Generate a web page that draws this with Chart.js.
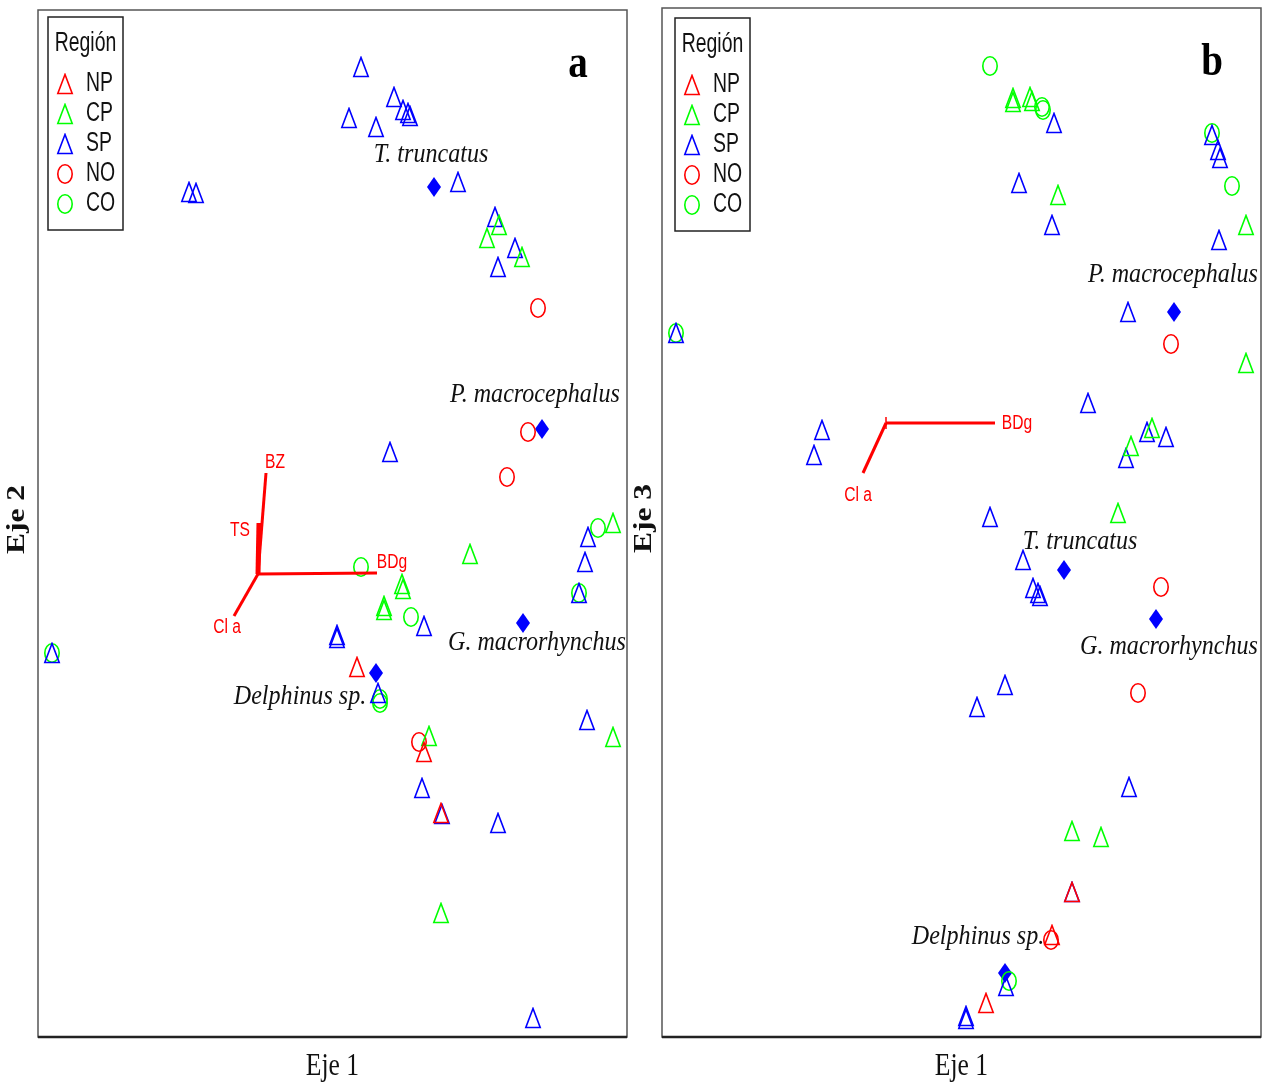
<!DOCTYPE html>
<html>
<head>
<meta charset="utf-8">
<script src="https://cdn.jsdelivr.net/npm/chart.js@4.4.0/dist/chart.umd.min.js"></script>
<style>
  body { margin: 0; background: #fff; width: 1263px; height: 1085px; overflow: hidden; position: relative; }
  .panel { position: absolute; top: 0; height: 1085px; }
</style>
</head>
<body>
<div class="panel" style="left:0;width:640px"><canvas id="chartA" width="640" height="1085"></canvas></div>
<div class="panel" style="left:630px;width:633px"><canvas id="chartB" width="633" height="1085"></canvas></div>
<script>
// ---- panel a : Eje 1 vs Eje 2 ----
const aNP = [[0.99, -0.93], [1.66, -1.78], [1.83, -2.39]];
const aCP = [[2.41, 3.49], [2.29, 3.36], [2.64, 3.17], [3.55, 0.51], [2.12, 0.20], [1.44, -0.10], [1.45, -0.15],
             [1.26, -0.32], [1.26, -0.36], [1.71, -1.62], [3.55, -1.63], [1.83, -3.39]];
const aSP = [[1.03, 5.07], [1.36, 4.77], [1.45, 4.64], [1.50, 4.61], [1.52, 4.58], [0.91, 4.56], [1.18, 4.47],
             [-0.69, 3.82], [-0.62, 3.81], [2.00, 3.92], [2.37, 3.57], [2.57, 3.26], [2.40, 3.07], [1.32, 1.22],
             [3.30, 0.37], [3.27, 0.12], [3.21, -0.19], [0.79, -0.61], [0.79, -0.64], [1.66, -0.52], [1.20, -1.19],
             [3.29, -1.46], [1.64, -2.14], [1.84, -2.40], [2.40, -2.49], [2.75, -4.44], [-2.06, -0.79]];
const aNO = [[2.80, 2.66], [2.70, 1.42], [2.49, 0.97], [1.61, -1.68]];
const aCO = [[3.40, 0.46], [1.03, 0.07], [3.21, -0.19], [1.53, -0.43], [1.22, -1.25], [1.22, -1.29], [-2.06, -0.79]];
const aSpecies = ['T. truncatus', 'P. macrocephalus', 'G. macrorhynchus', 'Delphinus sp.'];
const aCentroids = [[1.76, 3.87], [2.84, 1.45], [2.65, -0.49], [1.18, -0.99]];
const aSpeciesLabelPos = [[1.73, 4.19], [2.77, 1.79], [2.79, -0.69], [0.42, -1.23]];
const aVectors = ['BZ', 'TS', 'Cl a', 'BDg'];
const aVectorEnds = [[0.08, 1.01], [0.01, 0.51], [-0.24, -0.42], [1.19, 0.01]];
const aVectorLabelPos = [[0.17, 1.12], [-0.18, 0.44], [-0.31, -0.53], [1.34, 0.12]];

// ---- panel b : Eje 1 vs Eje 3 ----
const bNP = [[1.86, -4.69], [1.66, -5.12], [1.00, -5.80]];
const bCP = [[1.27, 3.25], [1.27, 3.21], [1.44, 3.26], [1.46, 3.22], [1.72, 2.28], [3.60, 1.98], [3.60, 0.60],
             [2.66, -0.05], [2.45, -0.23], [2.32, -0.90], [1.86, -4.08], [2.15, -4.14]];
const bSP = [[1.68, 3.00], [1.33, 2.40], [1.66, 1.98], [3.26, 2.88], [3.32, 2.73], [3.34, 2.65], [3.33, 1.83],
             [2.42, 1.11], [2.02, 0.20], [-2.10, 0.90], [-0.64, -0.07], [-0.72, -0.32], [1.04, -0.94], [2.61, -0.09],
             [2.80, -0.14], [2.40, -0.35], [1.37, -1.37], [1.47, -1.65], [1.52, -1.70], [1.54, -1.73], [1.19, -2.62],
             [0.91, -2.84], [2.43, -3.64], [1.86, -4.69], [1.20, -5.63], [0.80, -5.93], [0.80, -5.96]];
const bNO = [[2.85, 0.79], [2.75, -1.64], [2.52, -2.70], [1.65, -5.17]];
const bCO = [[1.04, 3.57], [1.56, 3.16], [1.57, 3.13], [3.26, 2.90], [3.46, 2.37], [-2.10, 0.90], [1.23, -5.58]];
const bSpecies = ['P. macrocephalus', 'T. truncatus', 'G. macrorhynchus', 'Delphinus sp.'];
const bCentroids = [[2.88, 1.11], [1.78, -1.47], [2.70, -1.96], [1.19, -5.50]];
const bSpeciesLabelPos = [[2.87, 1.48], [1.94, -1.19], [2.83, -2.24], [0.92, -5.14]];
const bVectors = ['BDg', 'Cl a'];
const bVectorEnds = [[1.09, 0.00], [-0.23, -0.50]];
const bVectorLabelPos = [[1.31, 0.00], [-0.28, -0.72]];

const regions = ['NP', 'CP', 'SP', 'NO', 'CO'];
const RED = '#ff0000', GREEN = '#00ff00', BLUE = '#0000ff';

// marker images (the original picture is stretched vertically, so shapes are taller than wide)
function triangle(color) {
  const c = document.createElement('canvas');
  c.width = 18; c.height = 22;
  const g = c.getContext('2d');
  g.strokeStyle = color; g.lineWidth = 1.6;
  g.beginPath(); g.moveTo(9, 1.5); g.lineTo(1.8, 20.5); g.lineTo(16.2, 20.5); g.closePath(); g.stroke();
  return c;
}
function circle(color) {
  const c = document.createElement('canvas');
  c.width = 18; c.height = 22;
  const g = c.getContext('2d');
  g.strokeStyle = color; g.lineWidth = 1.6;
  g.beginPath(); g.ellipse(9, 11, 7.2, 9.2, 0, 0, Math.PI * 2); g.stroke();
  return c;
}
function diamond(color) {
  const c = document.createElement('canvas');
  c.width = 16; c.height = 22;
  const g = c.getContext('2d');
  g.fillStyle = color;
  g.beginPath(); g.moveTo(8, 1); g.lineTo(15, 11); g.lineTo(8, 21); g.lineTo(1, 11); g.closePath(); g.fill();
  return c;
}
const styles = [triangle(RED), triangle(GREEN), triangle(BLUE), circle(RED), circle(GREEN)];

const xy = arr => arr.map(p => ({ x: p[0], y: p[1] }));

function buildDatasets(groups, centroids, vectorEnds, extraTS) {
  const ds = [];
  vectorEnds.forEach((end, i) => {
    ds.push({
      data: [{ x: 0, y: 0 }, { x: end[0], y: end[1] }],
      showLine: true, borderColor: RED, borderWidth: (extraTS && i === 1) ? 5 : 3,
      pointRadius: 0, clip: false
    });
  });
  groups.forEach((g, i) => {
    ds.push({ data: xy(g), pointStyle: styles[i], pointRadius: 6, showLine: false, clip: false });
  });
  ds.push({ data: xy(centroids), pointStyle: diamond(BLUE), pointRadius: 6, showLine: false, clip: false });
  return ds;
}

function txt(ctx, s, x, y, font, color, align, sx) {
  ctx.save();
  ctx.translate(x, y);
  ctx.scale(sx, 1);
  ctx.font = font;
  ctx.fillStyle = color;
  ctx.textAlign = align;
  ctx.textBaseline = 'middle';
  ctx.fillText(s, 0, 0);
  ctx.restore();
}

function decorations(cfg) {
  return {
    id: 'decor' + cfg.letter,
    afterDatasetsDraw(chart) {
      const { ctx, chartArea: a, scales: { x, y } } = chart;
      // frame
      ctx.save();
      ctx.strokeStyle = '#555';
      ctx.lineWidth = 1.5;
      ctx.strokeRect(a.left, a.top, a.right - a.left, a.bottom - a.top);
      ctx.strokeStyle = '#222';
      ctx.lineWidth = 2.5;
      ctx.beginPath(); ctx.moveTo(a.left, a.bottom); ctx.lineTo(a.right, a.bottom); ctx.stroke();
      ctx.restore();

      // species labels
      cfg.species.forEach((s, i) => {
        const p = cfg.speciesPos[i];
        txt(ctx, s, x.getPixelForValue(p[0]), y.getPixelForValue(p[1]),
          'italic 28px "Liberation Serif", "DejaVu Serif", serif', '#111', 'center', 0.86);
      });
      // vector labels
      cfg.vectors.forEach((s, i) => {
        const p = cfg.vectorPos[i];
        txt(ctx, s, x.getPixelForValue(p[0]), y.getPixelForValue(p[1]),
          '20px "Liberation Sans", Arial, sans-serif', RED, 'center', 0.78);
      });
      // origin tick in panel b
      if (cfg.originTick) {
        const ox = x.getPixelForValue(0), oy = y.getPixelForValue(0);
        ctx.save(); ctx.strokeStyle = RED; ctx.lineWidth = 1.5;
        ctx.beginPath(); ctx.moveTo(ox, oy - 6); ctx.lineTo(ox, oy + 6); ctx.stroke();
        ctx.restore();
      }

      // panel letter
      txt(ctx, cfg.letter, a.right - 49, a.top + 55, 'bold 46px "Liberation Serif", serif', '#000', 'center', 0.85);

      // legend box
      const lx = a.left + cfg.legendDx, ly = a.top + cfg.legendDy, lw = 75, lh = 213;
      ctx.save();
      ctx.fillStyle = '#fff';
      ctx.fillRect(lx, ly, lw, lh);
      ctx.strokeStyle = '#222'; ctx.lineWidth = 1.5;
      ctx.strokeRect(lx, ly, lw, lh);
      ctx.restore();
      txt(ctx, 'Región', lx + lw / 2, ly + 27, '27px "Liberation Sans", Arial, sans-serif', '#111', 'center', 0.72);
      regions.forEach((r, i) => {
        const cy = ly + 67 + i * 30;
        ctx.drawImage(styles[i], lx + 17 - 9, cy - 11);
        txt(ctx, r, lx + 38, cy, '27px "Liberation Sans", Arial, sans-serif', '#111', 'left', 0.72);
      });

      // axis titles
      txt(ctx, 'Eje 1', (a.left + a.right) / 2, a.bottom + 30, '32px "Liberation Serif", serif', '#111', 'center', 0.8);
      ctx.save();
      ctx.translate(a.left - cfg.yTitleDx, (a.top + a.bottom) / 2 - 4);
      ctx.rotate(-Math.PI / 2);
      ctx.scale(1.05, 0.85);
      ctx.font = 'bold 30px "Liberation Serif", serif';
      ctx.fillStyle = '#111';
      ctx.textAlign = 'center';
      ctx.textBaseline = 'middle';
      ctx.fillText(cfg.yTitle, 0, 0);
      ctx.restore();
    }
  };
}

function makeChart(id, datasets, xr, yr, pad, cfg) {
  return new Chart(document.getElementById(id), {
    type: 'scatter',
    data: { datasets: datasets },
    options: {
      responsive: false,
      animation: false,
      layout: { padding: pad, autoPadding: false },
      plugins: { legend: { display: false }, tooltip: { enabled: false } },
      events: [],
      scales: {
        x: { type: 'linear', min: xr[0], max: xr[1], display: false },
        y: { type: 'linear', min: yr[0], max: yr[1], display: false }
      }
    },
    plugins: [decorations(cfg)]
  });
}

makeChart('chartA',
  buildDatasets([aNP, aCP, aSP, aNO, aCO], aCentroids, aVectorEnds, true),
  [-2.20, 3.69], [-4.63, 5.64],
  { left: 38, right: 13, top: 10, bottom: 48 },
  { letter: 'a', yTitle: 'Eje 2', species: aSpecies, speciesPos: aSpeciesLabelPos,
    vectors: aVectors, vectorPos: aVectorLabelPos, originTick: false,
    legendDx: 10, legendDy: 7, yTitleDx: 21 });

makeChart('chartB',
  buildDatasets([bNP, bCP, bSP, bNO, bCO], bCentroids, bVectorEnds, false),
  [-2.24, 3.75], [-6.14, 4.15],
  { left: 32, right: 2, top: 8, bottom: 48 },
  { letter: 'b', yTitle: 'Eje 3', species: bSpecies, speciesPos: bSpeciesLabelPos,
    vectors: bVectors, vectorPos: bVectorLabelPos, originTick: true,
    legendDx: 13, legendDy: 10, yTitleDx: 18 });
</script>
</body>
</html>
